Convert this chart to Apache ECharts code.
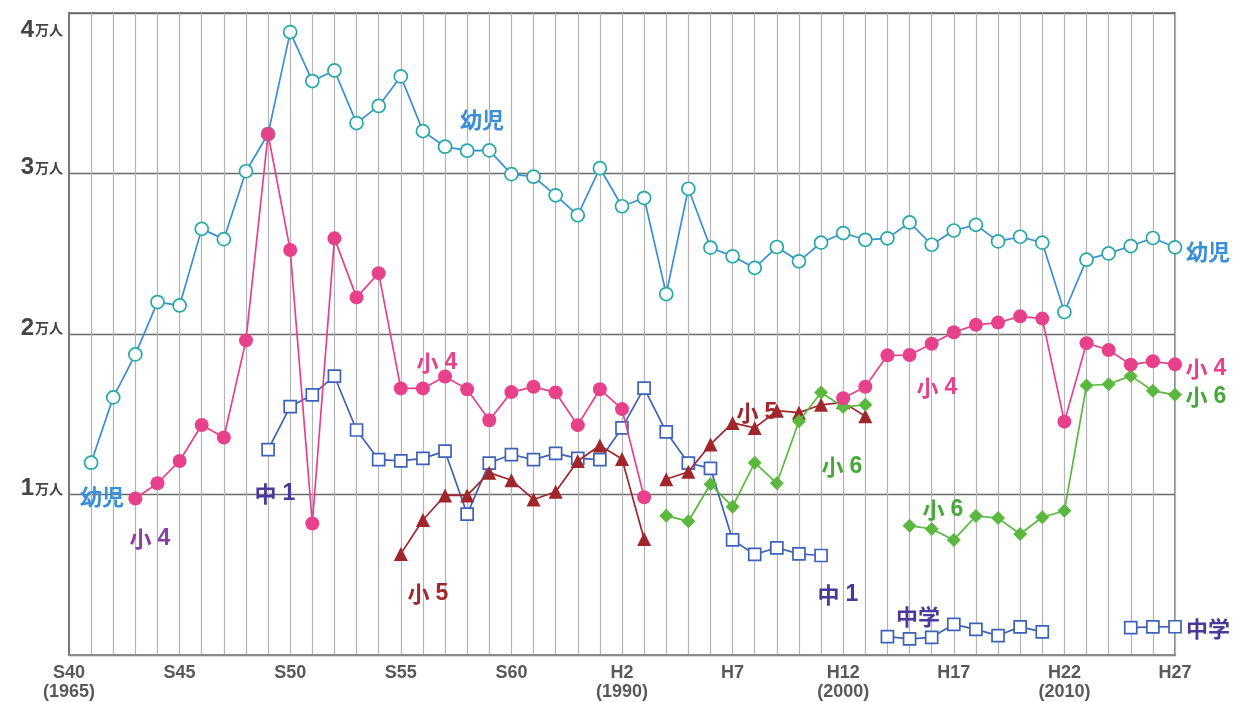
<!DOCTYPE html>
<html>
<head>
<meta charset="utf-8">
<script src="https://cdn.jsdelivr.net/npm/echarts@6/dist/echarts.min.js"></script>
<style>
  html, body { margin: 0; padding: 0; background: #fff; }
  #chart { width: 1233px; height: 702px; }
</style>
</head>
<body>
<div id="chart"></div>
<script>
// years S40 (1965) .. H27 (2015)
const years = [
    "S40", "S41", "S42", "S43", "S44", "S45", "S46", "S47", "S48", "S49",
    "S50", "S51", "S52", "S53", "S54", "S55", "S56", "S57", "S58", "S59",
    "S60", "S61", "S62", "S63", "H1", "H2", "H3", "H4", "H5", "H6",
    "H7", "H8", "H9", "H10", "H11", "H12", "H13", "H14", "H15", "H16",
    "H17", "H18", "H19", "H20", "H21", "H22", "H23", "H24", "H25", "H26",
    "H27"
];
const westernYears = { S40: "(1965)", H2: "(1990)", H12: "(2000)", H22: "(2010)" };
const yTicks = [0, 10000, 20000, 30000, 40000];

// 幼児
const youji = [
    null, 11980, 16050, 18730, 21990, 21780, 26550, 25910, 30140, 32460,
    38810, 35760, 36420, 33140, 34210, 36050, 32640, 31670, 31420, 31440,
    29960, 29800, 28640, 27400, 30330, 27960, 28470, 22490, 29050, 25380,
    24840, 24120, 25420, 24530, 25690, 26290, 25870, 25960, 26950, 25560,
    26450, 26800, 25770, 26060, 25690, 21370, 24630, 25020, 25480, 25980,
    25400
];
// 小4
const sho4 = [
    null, null, null, 9750, 10700, 12090, 14330, 13550, 19600, 32460,
    25230, 8190, 25960, 22280, 23790, 16610, 16610, 17350, 16550, 14630,
    16380, 16710, 16360, 14320, 16560, 15320, 9830, null, null, null,
    null, null, null, null, null, 16000, 16710, 18670, 18690, 19390,
    20110, 20570, 20710, 21100, 20960, 14540, 19430, 19000, 18090, 18300,
    18110
];
// 中1
const chu1 = [
    null, null, null, null, null, null, null, null, null, 12790,
    15470, 16210, 17370, 14020, 12170, 12090, 12250, 12700, 8780, 11960,
    12490, 12170, 12560, 12250, 12170, 14150, 16630, 13900, 11960, 11630,
    7170, 6270, 6680, 6300, 6200, null, null, null, null, null,
    null, null, null, null, null, null, null, null, null, null,
    null
];
// 中学
const chugaku = [
    null, null, null, null, null, null, null, null, null, null,
    null, null, null, null, null, null, null, null, null, null,
    null, null, null, null, null, null, null, null, null, null,
    null, null, null, null, null, null, null, 1150, 1000, 1100,
    1910, 1600, 1210, 1750, 1440, null, null, null, 1700, 1750,
    1760
];
// 小5
const sho5 = [
    null, null, null, null, null, null, null, null, null, null,
    null, null, null, null, null, 6300, 8410, 9940, 9940, 11360,
    10890, 9690, 10170, 12090, 13050, 12210, 7230, null, null, null,
    null, null, null, null, null, null, null, null, null, null,
    null, null, null, null, null, null, null, null, null, null,
    null
];
const sho5b = [
    null, null, null, null, null, null, null, null, null, null,
    null, null, null, null, null, null, null, null, null, null,
    null, null, null, null, null, null, null, 10950, 11420, 13120,
    14460, 14150, 15220, 15100, 15590, 15740, 14870, null, null, null,
    null, null, null, null, null, null, null, null, null, null,
    null
];
// 小6
const sho6 = [
    null, null, null, null, null, null, null, null, null, null,
    null, null, null, null, null, null, null, null, null, null,
    null, null, null, null, null, null, null, 8680, 8330, 10640,
    9240, 11980, 10700, 14560, 16360, 15450, 15590, null, 8060, 7850,
    7170, 8660, 8530, 7540, 8580, 8990, 16790, 16870, 17390, 16460,
    16210
];

const BLUE = "#3a8fd6", TEAL = "#26a9a6", PINK = "#e8418c", NAVY = "#3d62b8",
      RED = "#a1262c", GREEN = "#5bb83e", INDIGO = "#4a389b", PURPLE = "#8c3e9f",
      LGREEN = "#46a83a";
const CJK = "'Noto Sans CJK JP', sans-serif";
const LAT = "'Liberation Sans', Arial, sans-serif";

function lineSeries(name, data, symbol, size, lineColor, fill, border, z) {
    return {
        name: name,
        type: "line",
        data: data,
        symbol: symbol,
        symbolSize: size,
        connectNulls: false,
        z: z,
        lineStyle: { color: lineColor, width: 1.7 },
        itemStyle: { color: fill, borderColor: border, borderWidth: border === fill ? 0 : 1.7 },
        emphasis: { disabled: true }
    };
}

// annotation texts
const notes = [
    ["幼児", 482, 120, BLUE], ["幼児", 1208, 252, BLUE], ["幼児", 102, 497, BLUE],
    ["小4", 150, 539, PURPLE], ["中1", 275, 494, INDIGO], ["小4", 437, 363, PINK],
    ["小5", 428, 594, RED], ["小5", 757, 413, RED], ["小6", 842, 467, LGREEN],
    ["中1", 838, 595, INDIGO], ["小6", 943, 510, LGREEN], ["中学", 918, 617, INDIGO],
    ["小4", 937, 388, PINK], ["小4", 1206, 369, PINK], ["小6", 1206, 397, LGREEN],
    ["中学", 1208, 629, INDIGO]
];

function noteText(t) {
    // a kanji followed by a digit gets the wider spacing of the original
    if (/\d$/.test(t)) return "{k|" + t.slice(0, -1) + "}{d|" + t.slice(-1) + "}";
    return "{k|" + t + "}";
}

let chart = echarts.init(document.getElementById("chart"));
chart.setOption({
    animation: false,
    backgroundColor: "#fff",
    grid: {
        left: 69, right: 58, top: 13, bottom: 44,
        show: true, borderColor: "#8c8c8c", borderWidth: 2
    },
    xAxis: {
        type: "category",
        data: years,
        boundaryGap: false,
        axisLine: { lineStyle: { color: "#8c8c8c", width: 2 } },
        axisTick: { show: false },
        axisLabel: {
            interval: 4,
            margin: 9,
            color: "#595959",
            fontFamily: LAT,
            fontWeight: "bold",
            fontSize: 18,
            lineHeight: 19,
            formatter: v => westernYears[v] ? v + "\n" + westernYears[v] : v
        },
        splitLine: { show: true, interval: 0, lineStyle: { color: "#b4b4b4", width: 1.2 } }
    },
    yAxis: {
        type: "value",
        min: yTicks[0],
        max: yTicks[yTicks.length - 1],
        interval: 10000,
        axisLine: { show: true, lineStyle: { color: "#7a7a7a", width: 2 } },
        axisTick: { show: false },
        splitLine: { lineStyle: { color: "#6a6a6a", width: 1.4 } },
        axisLabel: {
            margin: 6,
            formatter: v => {
                if (v === 0) return "";
                const k = v / 10000;
                return v === 40000 ? "{nt|" + k + "}{ut|万人}" : "{n|" + k + "}{u|万人}";
            },
            rich: {
                n: { fontSize: 24, fontWeight: "bold", color: "#444", fontFamily: LAT, padding: [0, 1, 12, 0] },
                u: { fontSize: 14, fontWeight: "bold", color: "#444", fontFamily: CJK, padding: [0, 0, 12, 0] },
                nt: { fontSize: 24, fontWeight: "bold", color: "#444", fontFamily: LAT, padding: [34, 1, 0, 0] },
                ut: { fontSize: 14, fontWeight: "bold", color: "#444", fontFamily: CJK, padding: [34, 0, 0, 0] }
            }
        }
    },
    series: [
        lineSeries("幼児", youji, "circle", 13, BLUE, "#fff", TEAL, 2),
        lineSeries("中1", chu1, "rect", 12, NAVY, "#fff", NAVY, 3),
        lineSeries("中学", chugaku, "rect", 12, NAVY, "#fff", NAVY, 3),
        lineSeries("小5", sho5, "triangle", 14, RED, RED, RED, 4),
        lineSeries("小5", sho5b, "triangle", 14, RED, RED, RED, 4),
        lineSeries("小6", sho6, "diamond", 14, GREEN, GREEN, GREEN, 5),
        lineSeries("小4", sho4, "circle", 14, PINK, PINK, PINK, 6)
    ],
    graphic: notes.map(n => ({
        type: "text",
        z: 100,
        style: {
            text: noteText(n[0]), x: n[1], y: n[2],
            textAlign: "center", textVerticalAlign: "middle",
            rich: {
                k: { fill: n[3], fontSize: 22, fontWeight: "bold", fontFamily: CJK },
                d: { fill: n[3], fontSize: 23, fontWeight: "bold", fontFamily: LAT, padding: [0, 0, 0, 6] }
            }
        }
    }))
});
</script>
</body>
</html>
